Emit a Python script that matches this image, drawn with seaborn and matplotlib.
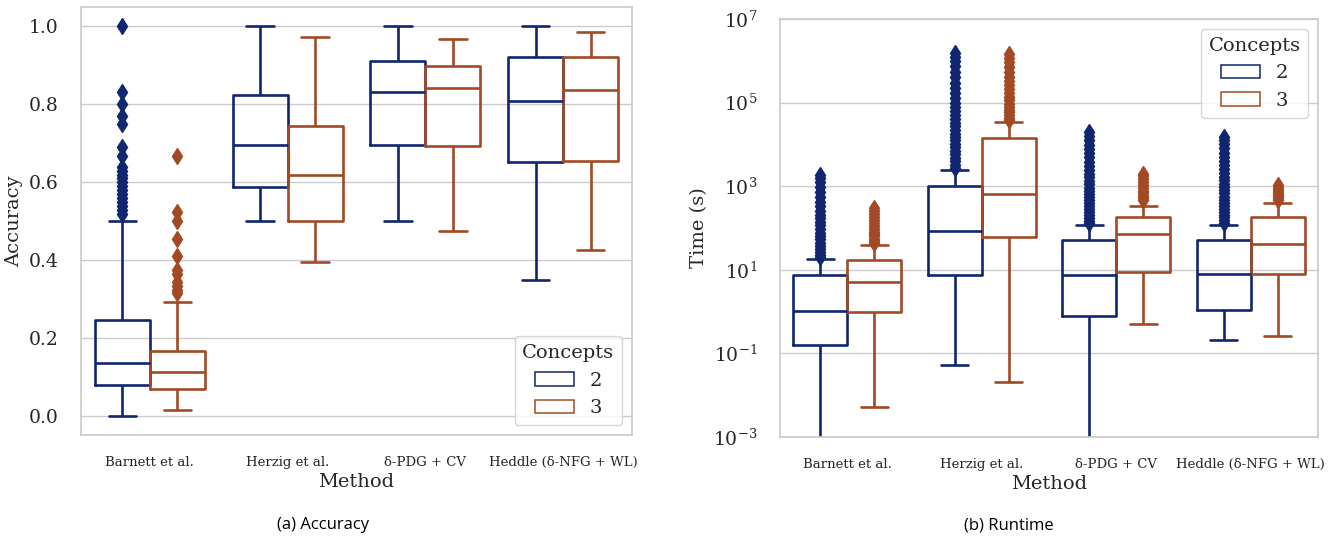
import pandas as pd
import matplotlib
matplotlib.use("Agg")
import matplotlib.pyplot as plt
import seaborn as sns

# categories
methods = ["Barnett et al.", "Herzig et al.", "δ-PDG + CV", "Heddle (δ-NFG + WL)"]
concepts = ["2", "3"]
colors = ["#10266e", "#a24a25"]

# accuracy box stats, one entry per method
acc_lo_2 = [0.002, 0.500, 0.500, 0.349]
acc_q1_2 = [0.079, 0.588, 0.696, 0.651]
acc_med_2 = [0.137, 0.695, 0.833, 0.810]
acc_q3_2 = [0.248, 0.823, 0.912, 0.921]
acc_hi_2 = [0.500, 1.000, 1.000, 1.000]
acc_out_2 = [
    [0.52, 0.53, 0.54, 0.55, 0.56, 0.57, 0.58, 0.59, 0.60, 0.61, 0.62, 0.63,
     0.64, 0.667, 0.69, 0.75, 0.77, 0.80, 0.833, 1.0],
    [], [], [],
]

acc_lo_3 = [0.015, 0.397, 0.476, 0.426]
acc_q1_3 = [0.070, 0.500, 0.694, 0.655]
acc_med_3 = [0.113, 0.620, 0.841, 0.837]
acc_q3_3 = [0.167, 0.745, 0.899, 0.921]
acc_hi_3 = [0.293, 0.973, 0.969, 0.985]
acc_out_3 = [
    [0.315, 0.325, 0.333, 0.345, 0.364, 0.375, 0.41, 0.455, 0.50, 0.524, 0.667],
    [], [], [],
]

# runtime box stats in seconds
rt_lo_2 = [1e-5, 0.054, 1e-5, 0.209]
rt_q1_2 = [0.16, 7.46, 0.807, 1.10]
rt_med_2 = [1.03, 85.7, 7.31, 8.0]
rt_q3_2 = [7.5, 1000, 50.3, 52.2]
rt_hi_2 = [18.0, 2450, 117, 119]
rt_out_2 = [
    [20, 23, 27, 32, 38, 45, 54, 65, 78, 95, 115, 140, 170, 210, 260, 330,
     420, 550, 720, 950, 1250, 1600, 1870],
    [2800, 3300, 4000, 4800, 5800, 7000, 8500, 10000, 12500, 15000, 18000,
     22000, 27000, 33000, 40000, 50000, 62000, 78000, 100000, 130000, 170000,
     220000, 300000, 400000, 550000, 750000, 1000000, 1250000, 1500000],
    [130, 150, 175, 205, 240, 280, 330, 390, 460, 550, 650, 780, 930, 1100,
     1350, 1650, 2000, 2500, 3100, 3900, 4900, 6200, 7800, 9800, 12500, 16000,
     20000],
    [135, 155, 180, 210, 245, 290, 340, 400, 470, 560, 670, 800, 960, 1150,
     1400, 1700, 2100, 2600, 3200, 4000, 5000, 6300, 8000, 10000, 12500, 15000],
]

rt_lo_3 = [0.0052, 0.0206, 0.51, 0.259]
rt_q1_3 = [0.97, 60.6, 8.8, 8.0]
rt_med_3 = [5.07, 668, 71.4, 41.2]
rt_q3_3 = [17.4, 14600, 182, 185]
rt_hi_3 = [39.6, 34000, 334, 401]
rt_out_3 = [
    [45, 50, 56, 63, 72, 82, 95, 110, 130, 155, 185, 220, 260, 300],
    [38000, 43000, 50000, 58000, 68000, 80000, 95000, 115000, 140000, 170000,
     210000, 260000, 330000, 420000, 550000, 720000, 950000, 1200000, 1450000],
    [460, 520, 590, 680, 780, 900, 1050, 1250, 1500, 1800, 2000],
    [470, 520, 580, 650, 730, 820, 920, 1050],
]


def expand(lo, q1, med, q3, hi, out):
    # sample whose boxplot stats give exactly these quartiles/whiskers
    b = len(out) + 10
    return [lo] + [q1] * b + [med] * b + [q3] * b + [hi] + list(out)


def build(col, stats):
    rows = []
    for c, (lo, q1, med, q3, hi, out) in zip(concepts, stats):
        for i, m in enumerate(methods):
            for v in expand(lo[i], q1[i], med[i], q3[i], hi[i], out[i]):
                rows.append({"Method": m, "Concepts": c, col: v})
    return pd.DataFrame(rows)


df_acc = build("Accuracy", [
    (acc_lo_2, acc_q1_2, acc_med_2, acc_q3_2, acc_hi_2, acc_out_2),
    (acc_lo_3, acc_q1_3, acc_med_3, acc_q3_3, acc_hi_3, acc_out_3),
])
df_rt = build("Time (s)", [
    (rt_lo_2, rt_q1_2, rt_med_2, rt_q3_2, rt_hi_2, rt_out_2),
    (rt_lo_3, rt_q1_3, rt_med_3, rt_q3_3, rt_hi_3, rt_out_3),
])

sns.set_theme(style="whitegrid")
plt.rcParams["font.family"] = ["DejaVu Serif"]
plt.rcParams["mathtext.fontset"] = "dejavuserif"

fig = plt.figure(figsize=(13.35, 5.37), dpi=100)
ax1 = fig.add_axes([0.0607, 0.190, 0.4127, 0.797])
ax2 = fig.add_axes([0.5843, 0.1862, 0.4030, 0.7784])

box_kw = dict(hue="Concepts", hue_order=concepts, order=methods, palette=colors,
              fill=False, linewidth=1.9,
              flierprops=dict(marker="d", markersize=8.5))

sns.boxplot(data=df_acc, x="Method", y="Accuracy", ax=ax1, **box_kw)
sns.boxplot(data=df_rt, x="Method", y="Time (s)", ax=ax2, **box_kw)

ax2.set_yscale("log")
ax2.set_ylim(1e-3, 1e7)
ax2.set_yticks([1e-3, 1e-1, 1e1, 1e3, 1e5, 1e7])
ax2.minorticks_off()

# filled diamonds for fliers
for ax in (ax1, ax2):
    for ln in ax.lines:
        if ln.get_marker() == "d":
            ln.set_markerfacecolor(ln.get_markeredgecolor())
    ax.tick_params(axis="x", labelsize=9.5, pad=9)
    ax.tick_params(axis="y", labelsize=13.5, pad=10)
    ax.set_xlabel("Method", fontsize=14, labelpad=3)
    ax.set_ylabel(ax.get_ylabel(), fontsize=14)

sns.move_legend(ax1, "lower right", title="Concepts", fontsize=14, title_fontsize=14)
sns.move_legend(ax2, "upper right", title="Concepts", fontsize=14, title_fontsize=14)
for ax in (ax1, ax2):
    for p in ax.get_legend().get_patches():
        p.set_linewidth(1.1)

fig.text(0.242, 0.022, "(a) Accuracy", family="Open Sans", fontsize=12,
         ha="center", va="center", color="black")
fig.text(0.756, 0.022, "(b) Runtime", family="Open Sans", fontsize=12,
         ha="center", va="center", color="black")

fig.savefig("out.png", dpi=100)
